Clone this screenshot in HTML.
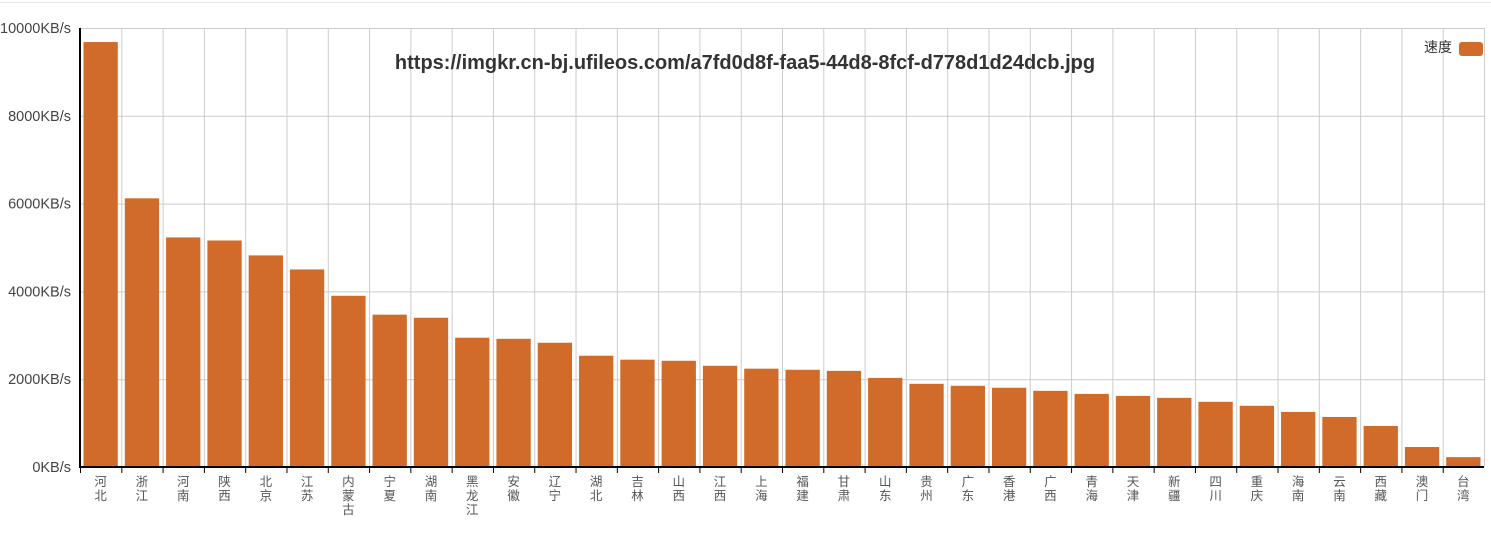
<!DOCTYPE html>
<html><head><meta charset="utf-8"><style>
body{margin:0;background:#fff;}
svg{display:block;font-family:"Liberation Sans","Noto Sans CJK SC",sans-serif;}
</style></head><body>
<svg id="chart" width="1491" height="545">
<line x1="0" y1="2.5" x2="1491" y2="2.5" stroke="#e6e6e6" stroke-width="1"/>
<g id="grid"></g><g id="bars"></g><g id="axes"></g>
<text x="745" y="69" text-anchor="middle" font-size="20" font-weight="bold" fill="#333">https://imgkr.cn-bj.ufileos.com/a7fd0d8f-faa5-44d8-8fcf-d778d1d24dcb.jpg</text>
<g>
<text x="1452" y="52" text-anchor="end" font-size="14" fill="#333">速度</text>
<rect x="1459" y="42" width="24" height="14" rx="3" fill="#d06b29"/>
</g>
</svg>
<script>
const categories=["河北","浙江","河南","陕西","北京","江苏","内蒙古","宁夏","湖南","黑龙江","安徽","辽宁","湖北","吉林","山西","江西","上海","福建","甘肃","山东","贵州","广东","香港","广西","青海","天津","新疆","四川","重庆","海南","云南","西藏","澳门","台湾"];
const speeds=[9680,6120,5230,5160,4820,4500,3900,3470,3400,2945,2920,2830,2535,2445,2420,2305,2240,2215,2190,2030,1895,1850,1805,1735,1665,1620,1575,1485,1395,1255,1140,935,455,225];
const yTicks=[0,2000,4000,6000,8000,10000];
const NS="http://www.w3.org/2000/svg";
const X0=80,X1=1484,Y0=467,Y1=28,YMAX=10000;
const bw=(X1-X0)/categories.length;
const y=v=>Y0-(v/YMAX)*(Y0-Y1);
const xc=i=>X0+bw*i;
function mk(tag,attrs,parent){const e=document.createElementNS(NS,tag);for(const k in attrs)e.setAttribute(k,attrs[k]);parent.appendChild(e);return e;}
const grid=document.getElementById('grid'),bars=document.getElementById('bars'),axes=document.getElementById('axes');
yTicks.forEach(t=>{
  const l=mk('line',{x1:X0,x2:X1,y1:y(t)+0.5,y2:y(t)+0.5,stroke:'#cccccc','stroke-width':1},grid);
  
  
  const tx=mk('text',{x:X0-9,y:y(t)+5,'text-anchor':'end','font-size':14.5,fill:'#444'},axes);
  tx.textContent=t+'KB/s';
  
  
});
for(let i=1;i<=categories.length;i++){
  const l=mk('line',{x1:xc(i)+0.5,x2:xc(i)+0.5,y1:Y1,y2:Y0,stroke:'#cccccc','stroke-width':1},grid);
  
  
}
categories.forEach((c,i)=>{
  const r=mk('rect',{x:xc(i)+3.5,y:y(speeds[i]),width:bw-7,height:Y0-y(speeds[i]),fill:'#d06b29'},bars);
  
  
  const tk=mk('line',{x1:xc(i)+0.5,x2:xc(i)+0.5,y1:Y0,y2:Y0+6,stroke:'#000','stroke-width':1},axes);
  
  
  const t=mk('text',{'font-size':12.5,fill:'#555','text-anchor':'middle'},axes);
  
  
  [...c].forEach((ch,j)=>{const s=mk('tspan',{x:xc(i)+bw/2,y:486+j*14},t);s.textContent=ch;});
});
const ya=mk('line',{x1:X0,x2:X0,y1:Y1,y2:Y0+1,stroke:'#000','stroke-width':2},axes);


const xa=mk('line',{x1:X0-1,x2:X1,y1:Y0,y2:Y0,stroke:'#000','stroke-width':2},axes);


</script>
</body></html>
